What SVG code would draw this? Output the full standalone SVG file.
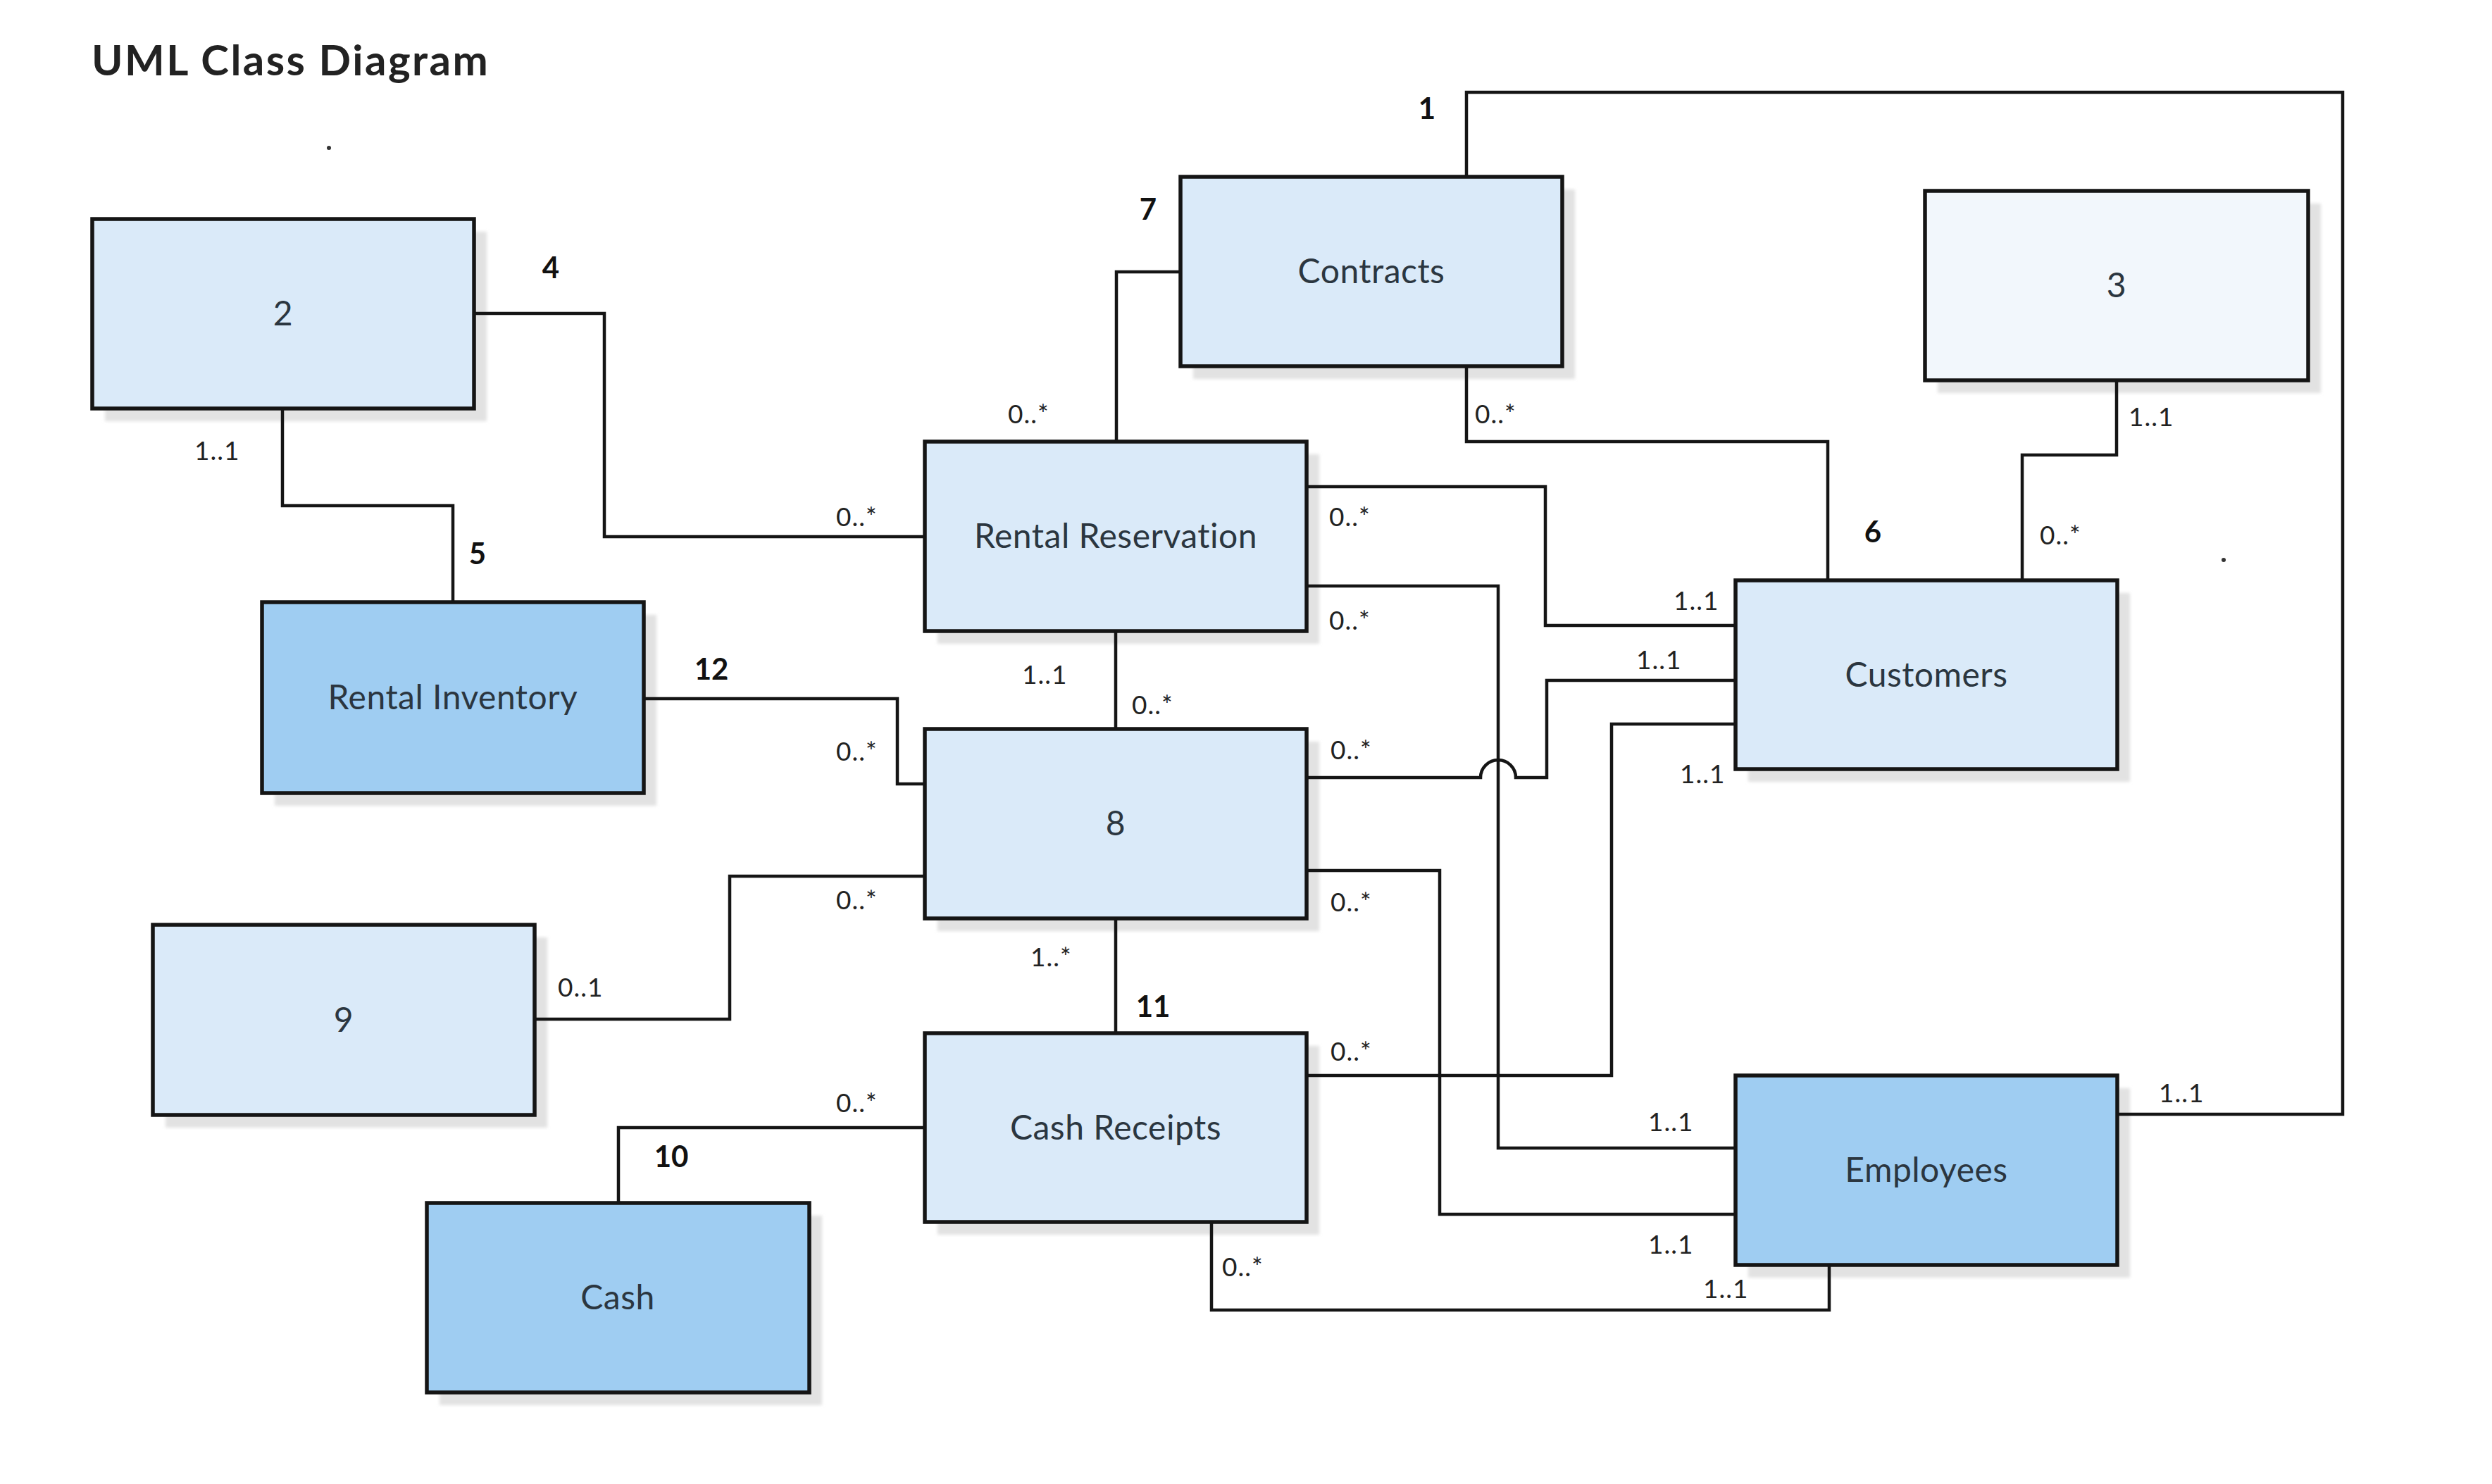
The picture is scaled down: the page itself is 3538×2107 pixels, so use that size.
<svg xmlns="http://www.w3.org/2000/svg" width="3538" height="2107" viewBox="0 0 3538 2107">
<defs>
<style>
.bg{fill:#ffffff}
.shadow{fill:#e2e2e2}
.box{stroke:#151515;stroke-width:5.5}
.light{fill:#daeaf9}
.dark{fill:#9fcdf2}
.pale{fill:#f2f7fc}
.lbl{font-family:Lato,"Liberation Sans",sans-serif;font-size:48px;letter-spacing:0.5px;fill:#2b3640;text-anchor:middle}
.mult{font-family:Lato,"Liberation Sans",sans-serif;font-size:37px;letter-spacing:1px;fill:#222222}
.num{font-family:Lato,"Liberation Sans",sans-serif;font-size:42px;font-weight:bold;fill:#111111;text-anchor:middle}
.title{font-family:Lato,"Liberation Sans",sans-serif;font-size:60px;letter-spacing:2.5px;font-weight:bold;fill:#222222}
.conn{fill:none;stroke:#151515;stroke-width:4.5;stroke-linejoin:miter}
</style>
<filter id="soft" x="-5%" y="-5%" width="110%" height="110%"><feGaussianBlur stdDeviation="2"/></filter>
</defs>
<rect class="bg" x="0" y="0" width="3538" height="2107"/>
<text class="title" x="130" y="107">UML Class Diagram</text>
<circle cx="467" cy="210" r="3" fill="#333"/>
<circle cx="3157" cy="795" r="3" fill="#333"/>

<g id="node-2">
<rect class="shadow" filter="url(#soft)" x="149" y="329" width="542" height="269"/>
<rect class="box light" x="131" y="311" width="542" height="269"/>
<text class="lbl" x="402" y="462">2</text>
</g>
<g id="node-contracts">
<rect class="shadow" filter="url(#soft)" x="1694" y="269" width="542" height="269"/>
<rect class="box light" x="1676" y="251" width="542" height="269"/>
<text class="lbl" x="1947" y="402">Contracts</text>
</g>
<g id="node-3">
<rect class="shadow" filter="url(#soft)" x="2751" y="289" width="544" height="269"/>
<rect class="box pale" x="2733" y="271" width="544" height="269"/>
<text class="lbl" x="3005" y="422">3</text>
</g>
<g id="node-rental-reservation">
<rect class="shadow" filter="url(#soft)" x="1331" y="645" width="542" height="269"/>
<rect class="box light" x="1313" y="627" width="542" height="269"/>
<text class="lbl" x="1584" y="778">Rental Reservation</text>
</g>
<g id="node-customers">
<rect class="shadow" filter="url(#soft)" x="2482" y="842" width="542" height="268"/>
<rect class="box light" x="2464" y="824" width="542" height="268"/>
<text class="lbl" x="2735" y="975">Customers</text>
</g>
<g id="node-rental-inventory">
<rect class="shadow" filter="url(#soft)" x="390" y="873" width="542" height="271"/>
<rect class="box dark" x="372" y="855" width="542" height="271"/>
<text class="lbl" x="643" y="1007">Rental Inventory</text>
</g>
<g id="node-8">
<rect class="shadow" filter="url(#soft)" x="1331" y="1053" width="542" height="269"/>
<rect class="box light" x="1313" y="1035" width="542" height="269"/>
<text class="lbl" x="1584" y="1186">8</text>
</g>
<g id="node-9">
<rect class="shadow" filter="url(#soft)" x="235" y="1331" width="542" height="270"/>
<rect class="box light" x="217" y="1313" width="542" height="270"/>
<text class="lbl" x="488" y="1465">9</text>
</g>
<g id="node-cash-receipts">
<rect class="shadow" filter="url(#soft)" x="1331" y="1485" width="542" height="268"/>
<rect class="box light" x="1313" y="1467" width="542" height="268"/>
<text class="lbl" x="1584" y="1618">Cash Receipts</text>
</g>
<g id="node-employees">
<rect class="shadow" filter="url(#soft)" x="2482" y="1545" width="542" height="269"/>
<rect class="box dark" x="2464" y="1527" width="542" height="269"/>
<text class="lbl" x="2735" y="1678">Employees</text>
</g>
<g id="node-cash">
<rect class="shadow" filter="url(#soft)" x="624" y="1726" width="543" height="269"/>
<rect class="box dark" x="606" y="1708" width="543" height="269"/>
<text class="lbl" x="877" y="1859">Cash</text>
</g>

<g id="connectors">
<path class="conn" d="M2082,251 V131 H3326 V1582 H3006"/>
<path class="conn" d="M3005,540 V646 H2871 V824"/>
<path class="conn" d="M2082,520 V627 H2595 V824"/>
<path class="conn" d="M673,445 H858 V762 H1313"/>
<path class="conn" d="M401,580 V718 H643 V855"/>
<path class="conn" d="M1676,386 H1585 V627"/>
<path class="conn" d="M1855,691 H2194 V888 H2464"/>
<path class="conn" d="M1855,832 H2127 V1630 H2464"/>
<path class="conn" d="M1584,896 V1035"/>
<path class="conn" d="M914,992 H1274 V1113 H1313"/>
<path class="conn" d="M1855,1104 H2102 A25,25 0 0 1 2152,1104 H2196 V966 H2464"/>
<path class="conn" d="M1313,1244 H1036 V1447 H759"/>
<path class="conn" d="M1855,1236 H2044 V1724 H2464"/>
<path class="conn" d="M1584,1304 V1467"/>
<path class="conn" d="M1855,1527 H2288 V1028 H2464"/>
<path class="conn" d="M1313,1601 H878 V1708"/>
<path class="conn" d="M1720,1735 V1860 H2597 V1796"/>
</g>

<g id="labels">
<text class="num" x="2026" y="169">1</text>
<text class="num" x="1630" y="312">7</text>
<text class="num" x="782" y="395">4</text>
<text class="num" x="678" y="801">5</text>
<text class="num" x="1010" y="965">12</text>
<text class="num" x="2659" y="770">6</text>
<text class="num" x="1637" y="1444">11</text>
<text class="num" x="953" y="1657">10</text>

<text class="mult" x="1431" y="601">0..*</text>
<text class="mult" x="2094" y="601">0..*</text>
<text class="mult" x="3022" y="605">1..1</text>
<text class="mult" x="276" y="653">1..1</text>
<text class="mult" x="1187" y="747">0..*</text>
<text class="mult" x="1887" y="747">0..*</text>
<text class="mult" x="2896" y="773">0..*</text>
<text class="mult" x="2376" y="866">1..1</text>
<text class="mult" x="1887" y="894">0..*</text>
<text class="mult" x="2323" y="950">1..1</text>
<text class="mult" x="1451" y="971">1..1</text>
<text class="mult" x="1607" y="1014">0..*</text>
<text class="mult" x="1187" y="1080">0..*</text>
<text class="mult" x="1889" y="1078">0..*</text>
<text class="mult" x="2385" y="1112">1..1</text>
<text class="mult" x="1187" y="1291">0..*</text>
<text class="mult" x="1889" y="1294">0..*</text>
<text class="mult" x="1463" y="1372">1..*</text>
<text class="mult" x="792" y="1415">0..1</text>
<text class="mult" x="1889" y="1506">0..*</text>
<text class="mult" x="3065" y="1565">1..1</text>
<text class="mult" x="1187" y="1579">0..*</text>
<text class="mult" x="2340" y="1606">1..1</text>
<text class="mult" x="2340" y="1780">1..1</text>
<text class="mult" x="1735" y="1812">0..*</text>
<text class="mult" x="2418" y="1843">1..1</text>
</g>
</svg>
